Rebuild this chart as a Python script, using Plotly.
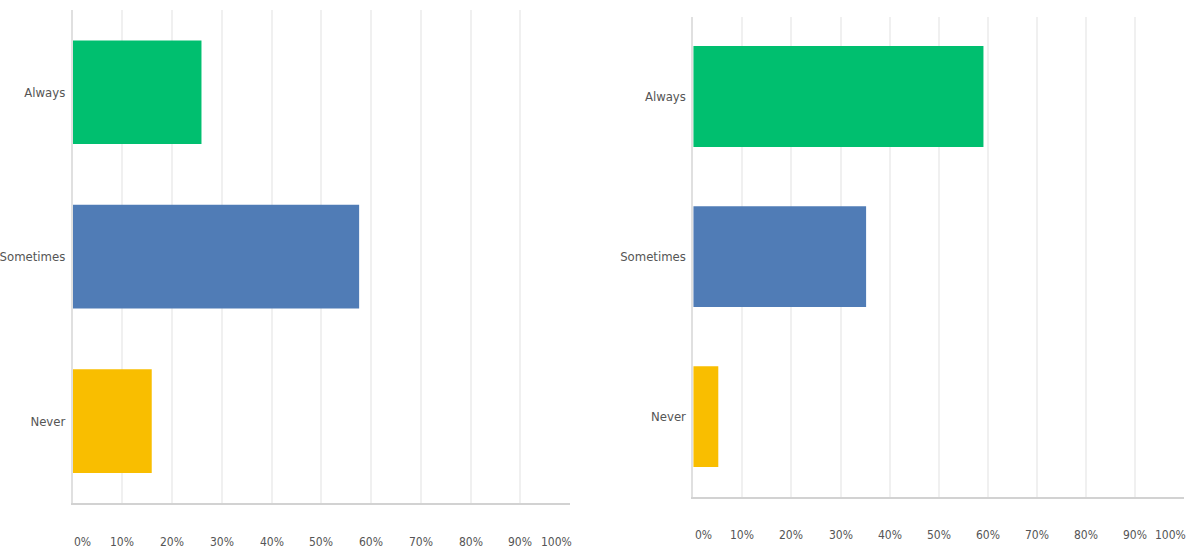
import plotly.graph_objects as go

# Survey responses (percent of respondents), two question groups side by side
categories = ["Always", "Sometimes", "Never"]
left_values = [25.9, 57.6, 15.9]
right_values = [59.1, 35.2, 5.1]
bar_colors = ["#00BF6F", "#507CB6", "#F9BE00"]
tick_values = [0, 10, 20, 30, 40, 50, 60, 70, 80, 90, 100]
tick_labels = ["0%", "10%", "20%", "30%", "40%", "50%", "60%", "70%", "80%", "90%", "100%"]

FONT = "DejaVu Sans Condensed, Liberation Sans Narrow, Arial Narrow, sans-serif"
TEXT = "#555555"

fig = go.Figure()
fig.add_trace(go.Bar(x=left_values, y=categories, orientation="h",
                     marker=dict(color=bar_colors, line=dict(width=0)),
                     xaxis="x", yaxis="y", hoverinfo="x+y", showlegend=False))
fig.add_trace(go.Bar(x=right_values, y=categories, orientation="h",
                     marker=dict(color=bar_colors, line=dict(width=0)),
                     xaxis="x2", yaxis="y2", hoverinfo="x+y", showlegend=False))

xcommon = dict(range=[0, 100], tickvals=tick_values, showticklabels=False,
               showgrid=True, gridcolor="#f0f0f0", gridwidth=1.5,
               zeroline=False, showline=True, linecolor="#d2d2d2", linewidth=2,
               ticks="", fixedrange=True, automargin=False)
ycommon = dict(type="category", categoryorder="array",
               categoryarray=categories[::-1], showgrid=False, zeroline=False,
               showline=True, linecolor="#e0e0e0", linewidth=1.5, ticks="",
               ticklabelstandoff=3, automargin=False,
               tickfont=dict(family=FONT, size=13, color=TEXT), fixedrange=True)

fig.update_layout(
    width=1193, height=554,
    margin=dict(l=0, r=0, t=0, b=0),
    paper_bgcolor="white", plot_bgcolor="white",
    bargap=0.37,
    xaxis=dict(domain=[0.0609, 0.4778], anchor="y", **xcommon),
    yaxis=dict(domain=[0.0915, 0.982], anchor="x", **ycommon),
    xaxis2=dict(domain=[0.5811, 0.9927], anchor="y2", **xcommon),
    yaxis2=dict(domain=[0.1034, 0.9702], anchor="x2", **ycommon),
)

# Percentage labels under each axis; the end labels are nudged inward
end_shift = {0: 10, 100: -14}
for xref, ypos in (("x", 0.0222), ("x2", 0.0343)):
    for v, lab in zip(tick_values, tick_labels):
        fig.add_annotation(x=v, y=ypos, xref=xref, yref="paper", text=lab,
                           showarrow=False, xanchor="center", yanchor="middle",
                           xshift=end_shift.get(v, 0),
                           font=dict(family=FONT, size=12, color=TEXT))

fig.write_html("out.html")
